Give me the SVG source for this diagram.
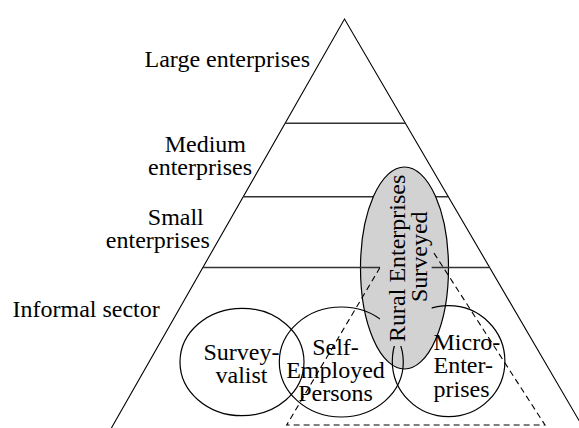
<svg xmlns="http://www.w3.org/2000/svg" width="579" height="428" viewBox="0 0 579 428">
  <style>
    .t { font-family: "Liberation Serif", "Times New Roman", serif; font-size: 24px; fill: #000; }
    .side { stroke: #000; stroke-width: 1.1; fill: none; }
    .tier { stroke: #333; stroke-width: 1.4; fill: none; }
    .ring { stroke: #000; stroke-width: 1.2; fill: none; }
    .dash { stroke: #000; stroke-width: 1.1; fill: none; stroke-dasharray: 6 4; }
    .gray { fill: #d2d2d2; }
  </style>
  <rect width="579" height="428" fill="#fff"/>

  <g id="pyramid">
    <polyline class="side" points="111.4,428 344.5,19 583.4,428"/>
    <line class="tier" x1="285" y1="123.3" x2="405.4" y2="123.3"/>
    <line class="tier" x1="243.2" y1="196.7" x2="448.3" y2="196.7"/>
  </g>

  <g id="labels">
    <text class="t" x="310" y="66.5" text-anchor="end">Large enterprises</text>
    <text class="t" x="246" y="151.7" text-anchor="end">Medium</text>
    <text class="t" x="252" y="174.5" text-anchor="end">enterprises</text>
    <text class="t" x="203.8" y="225" text-anchor="end">Small</text>
    <text class="t" x="209.8" y="248.3" text-anchor="end">enterprises</text>
    <text class="t" x="12.5" y="317.3">Informal sector</text>
  </g>

  <g id="rural-enterprises-surveyed-shape">
    <ellipse class="gray" cx="404.5" cy="268" rx="44" ry="101" stroke="#000" stroke-width="1.2"/>
  </g>

  <g id="pyramid-lower-tier">
    <line class="tier" x1="203" y1="267.5" x2="489.5" y2="267.5"/>
  </g>

  <g id="survey-valist">
    <ellipse class="ring" cx="242" cy="362" rx="62" ry="53.7"/>
    <text class="t" x="241.5" y="360" text-anchor="middle">Survey-</text>
    <text class="t" x="241.5" y="382.7" text-anchor="middle">valist</text>
  </g>

  <g id="self-employed-persons">
    <ellipse class="ring" cx="341.3" cy="362" rx="62" ry="55"/>
    <text class="t" x="335.5" y="354.5" text-anchor="middle">Self-</text>
    <text class="t" x="335.5" y="377.5" text-anchor="middle">Employed</text>
    <text class="t" x="335.5" y="400.5" text-anchor="middle">Persons</text>
  </g>

  <g id="micro-enterprises">
    <ellipse class="ring" cx="448.6" cy="361.2" rx="56.3" ry="55.5"/>
    <text class="t" x="433.5" y="350">Micro-</text>
    <text class="t" x="433.5" y="373.3">Enter-</text>
    <text class="t" x="433.5" y="396.7">prises</text>
  </g>

  <g id="connectors">
    <polyline class="dash" points="380,267.5 286.7,425 545,425 432,250"/>
  </g>

  <g id="rural-enterprises-surveyed">
    <rect class="gray" x="380" y="230" width="51.7" height="116"/>
    <text class="t" text-anchor="middle" transform="translate(404.5,258.3) rotate(-90)">Rural Enterprises</text>
    <text class="t" text-anchor="middle" transform="translate(427,256.7) rotate(-90)">Surveyed</text>
  </g>
</svg>
